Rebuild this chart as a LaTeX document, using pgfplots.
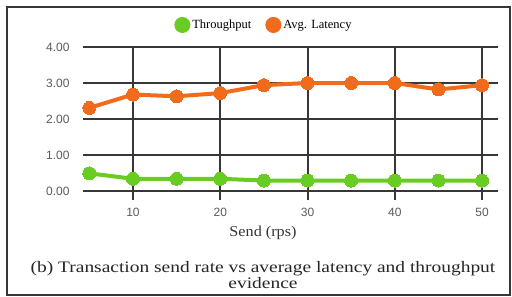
\documentclass[border=0pt]{standalone}
\usepackage{pgfplots}
\pgfplotsset{compat=1.18}
\usepackage{fontspec}
\setmainfont{Liberation Serif}
\newfontfamily\ticksans{Liberation Sans}
\definecolor{tgreen}{RGB}{104,204,34}
\definecolor{torange}{RGB}{240,108,28}
\definecolor{gridc}{RGB}{55,55,55}
\definecolor{tickc}{RGB}{90,90,90}
\begin{document}
\begin{tikzpicture}[x=1pt,y=1pt]
\path[use as bounding box] (0,0) rectangle (512,297);
\draw[line width=1.6pt, color=gridc] (7,2) rectangle (510,290);
\begin{axis}[
  at={(83pt,106pt)}, anchor=south west,
  scale only axis, width=415pt, height=144pt,
  xmin=4.27, xmax=51.83, ymin=0, ymax=4,
  axis line style={draw=none},
  xtick={10,20,30,40,50},
  ytick={0,1,2,3,4},
  yticklabel={\pgfmathprintnumber[fixed,fixed zerofill,precision=2]{\tick}},
  /pgf/number format/assume math mode=true,
  xtick pos=bottom, ytick pos=left,
  tick align=outside, major tick length=9pt,
  xtick style={line width=2pt, color=gridc},
  ytick style={draw=none},
  xmajorgrids, ymajorgrids,
  major grid style={line width=2pt, color=gridc},
  tick label style={font=\ticksans\fontsize{12}{14}\selectfont, color=tickc},
  xticklabel style={yshift=-5pt},
  yticklabel style={xshift=-1pt},
  legend columns=2,
  legend style={at={(0.436,1.153)}, anchor=center, draw=none, fill=none,
    font=\fontsize{12.5}{14}\selectfont, /tikz/every even column/.append style={column sep=12pt}},
  legend image code/.code={\fill[#1] (0pt,0pt) circle (6pt);},
  clip=false,
]
\addplot[color=tgreen, line width=4pt, mark=*, mark size=6.5pt, mark options={fill=tgreen, draw=tgreen, line width=0pt}]
  coordinates {(5,0.49) (10,0.34) (15,0.34) (20,0.34) (25,0.29) (30,0.29) (35,0.29) (40,0.29) (45,0.29) (50,0.29)};
\addlegendentry{Throughput}
\addplot[color=torange, line width=4pt, mark=*, mark size=6.5pt, mark options={fill=torange, draw=torange, line width=0pt}]
  coordinates {(5,2.31) (10,2.68) (15,2.63) (20,2.72) (25,2.94) (30,3.0) (35,3.0) (40,3.0) (45,2.82) (50,2.94)};
\addlegendentry{Avg. Latency}
\end{axis}
\node[font=\fontsize{15}{16}\selectfont, color=black!80] at (263,64) {\scalebox{1.08}[1]{Send (rps)}};
\node[font=\fontsize{16}{17}\selectfont, color=black!85, align=center] at (263,22)
  {\scalebox{1.215}[1]{(b) Transaction send rate vs average latency and throughput}\\[-1pt]\scalebox{1.215}[1]{evidence}};
\end{tikzpicture}
\end{document}
